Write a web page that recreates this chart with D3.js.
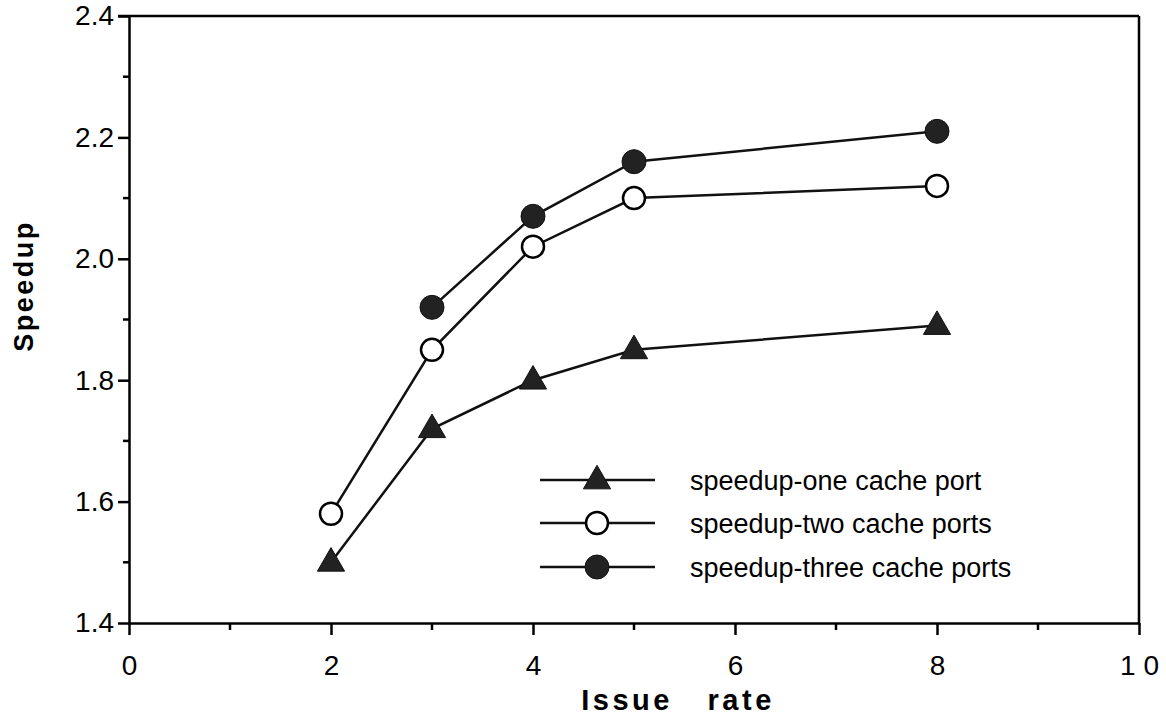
<!DOCTYPE html>
<html>
<head>
<meta charset="utf-8">
<script src="https://cdn.jsdelivr.net/npm/d3@7"></script>
<style>
  body { margin: 0; background: #fff; }
  text { font-family: "Liberation Sans", Arial, Helvetica, sans-serif; fill: #000; }
</style>
</head>
<body>
<script>
// Speedup vs issue rate for 1, 2 and 3 cache ports

var issueRates = [2, 3, 4, 5, 8];
var onePort = [1.50, 1.72, 1.80, 1.85, 1.89];
var twoPorts = [1.58, 1.85, 2.02, 2.10, 2.12];
var threeRates = [3, 4, 5, 8];
var threePorts = [1.92, 2.07, 2.16, 2.21];

var xTicks = [0, 2, 4, 6, 8, 10];
var xMinor = [1, 3, 5, 7, 9];
var yTicks = [1.4, 1.6, 1.8, 2.0, 2.2, 2.4];
var yMinor = [1.5, 1.7, 1.9, 2.1, 2.3];

var legendNames = ["speedup-one cache port", "speedup-two cache ports", "speedup-three cache ports"];

var margin = { top: 16, left: 129, right: 27, bottom: 95 };
var W = 1166, H = 718;

var svg = d3.select("body").append("svg")
    .attr("width", W)
    .attr("height", H);

var x = d3.scaleLinear().domain([0, 10]).range([margin.left, W - margin.right]);
var y = d3.scaleLinear().domain([1.4, 2.4]).range([H - margin.bottom, margin.top]);

var series = [
    { xs: issueRates, ys: onePort, shape: "tri" },
    { xs: issueRates, ys: twoPorts, shape: "open" },
    { xs: threeRates, ys: threePorts, shape: "filled" }
];

// axes box: left + bottom with ticks, top + right as plain lines
var axisStroke = 2.5;
var bottomAxis = d3.axisBottom(x).tickValues(xTicks).tickSize(12).tickSizeOuter(0)
    .tickFormat(function(d) { return d === 10 ? "1 0" : d; });
var gx = svg.append("g")
    .attr("transform", "translate(0," + y(1.4) + ")")
    .call(bottomAxis);
gx.selectAll(".tick text")
    .attr("font-size", 28).attr("dy", 0).attr("y", 52)
    .attr("text-anchor", "middle")
    .style("font-family", "Liberation Sans, Arial, sans-serif");
gx.append("g").selectAll("line").data(xMinor).enter().append("line")
    .attr("x1", x).attr("x2", x).attr("y1", 0).attr("y2", 7)
    .attr("stroke", "#000").attr("stroke-width", axisStroke);

var leftAxis = d3.axisLeft(y).tickValues(yTicks).tickSize(11).tickSizeOuter(0)
    .tickFormat(d3.format(".1f"));
var gy = svg.append("g")
    .attr("transform", "translate(" + x(0) + ",0)")
    .call(leftAxis);
gy.selectAll("text").attr("font-size", 28).attr("x", -15)
    .style("font-family", "Liberation Sans, Arial, sans-serif");
gy.append("g").selectAll("line").data(yMinor).enter().append("line")
    .attr("y1", y).attr("y2", y).attr("x1", 0).attr("x2", -6)
    .attr("stroke", "#000").attr("stroke-width", axisStroke);

svg.selectAll(".domain, .tick line").attr("stroke", "#000").attr("stroke-width", axisStroke);

svg.append("line")
    .attr("x1", x(0) - 11).attr("x2", x(10))
    .attr("y1", y(2.4)).attr("y2", y(2.4))
    .attr("stroke", "#000").attr("stroke-width", axisStroke);
svg.append("line")
    .attr("x1", x(10)).attr("x2", x(10))
    .attr("y1", y(2.4)).attr("y2", y(1.4))
    .attr("stroke", "#000").attr("stroke-width", axisStroke);

// axis titles
svg.append("text")
    .attr("x", 678)
    .attr("y", 710)
    .attr("text-anchor", "middle")
    .attr("font-size", 29)
    .attr("font-weight", "bold")
    .attr("letter-spacing", 3.5)
    .attr("xml:space", "preserve")
    .text("Issue   rate");

svg.append("text")
    .attr("transform", "translate(33,286) rotate(-90)")
    .attr("text-anchor", "middle")
    .attr("font-size", 27)
    .attr("font-weight", "bold")
    .attr("letter-spacing", 2.5)
    .text("Speedup");

function drawMarker(g, shape, cx, cy) {
    if (shape === "tri") {
        g.append("path")
            .attr("d", d3.symbol().type(d3.symbolTriangle).size(320))
            .attr("transform", "translate(" + cx + "," + (cy + 1) + ")")
            .attr("fill", "#222")
            .attr("stroke", "#111")
            .attr("stroke-width", 1);
    } else if (shape === "open") {
        g.append("circle")
            .attr("cx", cx).attr("cy", cy).attr("r", 11)
            .attr("fill", "#fff")
            .attr("stroke", "#000")
            .attr("stroke-width", 2.5);
    } else {
        g.append("circle")
            .attr("cx", cx).attr("cy", cy).attr("r", 12)
            .attr("fill", "#222")
            .attr("stroke", "#111")
            .attr("stroke-width", 1);
    }
}

var line = d3.line()
    .x(function(d) { return x(d[0]); })
    .y(function(d) { return y(d[1]); });

series.forEach(function(s) {
    var pts = d3.zip(s.xs, s.ys);
    svg.append("path")
        .datum(pts)
        .attr("d", line)
        .attr("fill", "none")
        .attr("stroke", "#111")
        .attr("stroke-width", 2.5);
    var g = svg.append("g");
    pts.forEach(function(p) { drawMarker(g, s.shape, x(p[0]), y(p[1])); });
});

// legend
var legendY = [480, 523, 567];
series.forEach(function(s, i) {
    var g = svg.append("g");
    g.append("line")
        .attr("x1", 540).attr("x2", 655)
        .attr("y1", legendY[i]).attr("y2", legendY[i])
        .attr("stroke", "#111").attr("stroke-width", 2.5);
    drawMarker(g, s.shape, 597, legendY[i]);
    g.append("text")
        .attr("x", 690)
        .attr("y", legendY[i] + 10)
        .attr("font-size", 27)
        .text(legendNames[i]);
});
</script>
</body>
</html>
